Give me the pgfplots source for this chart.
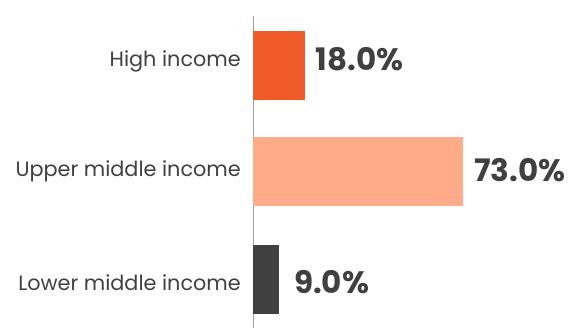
\documentclass[border=0pt]{standalone}
\usepackage{pgfplots}
\pgfplotsset{compat=1.18}
\usepackage{fontspec}
\setmainfont{Poppins}
\definecolor{highc}{HTML}{F05A28}
\definecolor{upperc}{HTML}{FFAA88}
\definecolor{lowerc}{HTML}{404040}
\definecolor{txt}{HTML}{404040}
\definecolor{axc}{HTML}{A0A0A0}
\begin{document}
\begin{tikzpicture}
\path[use as bounding box] (0,0) rectangle (569bp,328bp);
\begin{axis}[
  at={(253bp,0bp)}, anchor=south west,
  scale only axis,
  width=287.7bp, height=312bp,
  xmin=0, xmax=100,
  ymin=0, ymax=312,
  axis x line=none,
  axis y line*=left,
  y axis line style={draw=axc, line width=0.8bp},
  ytick={37,151,261},
  yticklabels={Lower middle income, Upper middle income, High income},
  major tick length=0pt,
  yticklabel style={anchor=base east, inner sep=0pt, xshift=-12bp, font=\fontsize{20.8bp}{22bp}\selectfont, text=txt},
  xbar, bar width=69bp, bar shift=0pt,
  clip=false,
  nodes near coords={\pgfmathprintnumber[fixed,fixed zerofill,precision=1,assume math mode=true]{\pgfplotspointmeta}\%},
  nodes near coords style={anchor=base west, inner sep=0pt, xshift=11bp, font=\fontsize{31bp}{33bp}\selectfont\bfseries, text=txt},
  point meta=x,
]
\addplot[fill=lowerc, draw=none, every node near coord/.append style={yshift=-14bp, xshift=4bp}] coordinates {(9,48)};
\addplot[fill=upperc, draw=none, every node near coord/.append style={yshift=-10bp}] coordinates {(73,156)};
\addplot[fill=highc, draw=none, every node near coord/.append style={yshift=-5bp}] coordinates {(18,262)};
\end{axis}
\end{tikzpicture}
\end{document}
